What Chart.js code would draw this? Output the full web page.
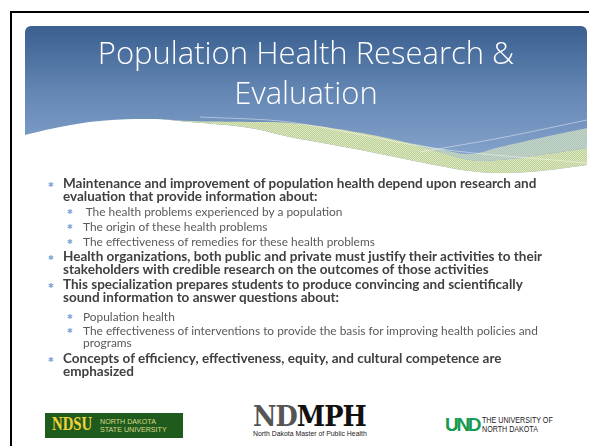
<!DOCTYPE html>
<html>
<head>
<meta charset="utf-8">
<script src="https://cdn.jsdelivr.net/npm/chart.js@4/dist/chart.umd.min.js"></script>
<style>
  html, body { margin: 0; padding: 0; background: #fff; }
  body { width: 589px; height: 446px; position: relative; overflow: hidden; font-family: Lato, "Open Sans", sans-serif; }
  .frame { position: absolute; left: 10px; top: 11px; width: 600px; height: 460px; border-left: 2px solid #000; border-top: 2px solid #000; }
  .header { position: absolute; left: 25px; top: 26px; width: 562px; height: 154px; border-radius: 6px 6px 0 0; overflow: hidden;
    background: linear-gradient(to bottom, #3a6090 0%, #6688b5 45%, #8fadd4 100%); }
  .header canvas { position: absolute; left: 0; top: 0; }
  .title { position: absolute; left: 25px; width: 562px; text-align: center; color: #fff; font-family: "Open Sans", sans-serif; font-weight: 300; font-size: 31px; line-height: 40px; top: 32px; }
  .p { position: absolute; color: #404040; white-space: nowrap; }
  .l1 { left: 63px; font-weight: 700; font-size: 13.5px; line-height: 13px; }
  .l2 { left: 83px; color: #5a5a5a; font-size: 11.9px; line-height: 11.5px; }
  .b { position: absolute; font-family: "DejaVu Sans", sans-serif; color: #7fa4d6; font-size: 7px; font-weight: 400; }
  .l1 .b { left: -15px; top: 2px; }
  .l2 .b { left: -16px; top: 1px; }
  .ndsu { position: absolute; left: 45px; top: 413px; width: 138px; height: 25px; background: #1f5b1c; }
  .ndsu .big { position: absolute; left: 7px; top: 1px; font-family: "Liberation Serif", serif; font-weight: 700; font-size: 18px; color: #efd33a; transform: scaleX(0.82); transform-origin: left top; }
  .ndsu .small { position: absolute; left: 55px; top: 5px; font-family: "Liberation Sans", sans-serif; font-size: 7.5px; line-height: 7.5px; color: #d9d98a; transform: scaleX(0.95); transform-origin: left top; }
  .ndmph { position: absolute; left: 253px; top: 403px; font-family: "DejaVu Serif", serif; font-weight: 900; font-size: 27px; line-height: 27px; transform: scaleX(0.95); transform-origin: left top; letter-spacing: -1px; }
  .ndmph .g { color: #555; }
  .ndmph .k { color: #111; }
  .ndmph-sub { position: absolute; left: 253px; top: 430px; font-family: "Liberation Sans", sans-serif; font-size: 6.9px; color: #222; }
  .und { position: absolute; left: 445px; top: 414px; font-family: "Liberation Sans", sans-serif; font-weight: 700; font-size: 19px; color: #189a4e; letter-spacing: -2.3px; }
  .und-t { position: absolute; left: 482px; top: 415px; font-family: "Liberation Sans", sans-serif; font-size: 9.5px; line-height: 9px; color: #222; transform: scaleX(0.75); transform-origin: left top; }
</style>
</head>
<body>
<div class="frame"></div>
<div class="header"><canvas id="wave" width="562" height="154"></canvas></div>
<div class="title">Population Health Research &amp;<br>Evaluation</div>

<div class="p l1" style="top:177px"><span class="b">✱</span>Maintenance and improvement of population health depend upon research and<br>evaluation that provide information about:</div>
<div class="p l2" style="top:206px"><span class="b">✱</span>&nbsp;The health problems experienced by a population</div>
<div class="p l2" style="top:221px"><span class="b">✱</span>The origin of these health problems</div>
<div class="p l2" style="top:235.5px"><span class="b">✱</span>The effectiveness of remedies for these health problems</div>
<div class="p l1" style="top:250px"><span class="b">✱</span>Health organizations, both public and private must justify their activities to their<br>stakeholders with credible research on the outcomes of those activities</div>
<div class="p l1" style="top:278px"><span class="b">✱</span>This specialization prepares students to produce convincing and scientifically<br>sound information to answer questions about:</div>
<div class="p l2" style="top:310.5px"><span class="b">✱</span>Population health</div>
<div class="p l2" style="top:325px"><span class="b">✱</span>The effectiveness of interventions to provide the basis for improving health policies and<br>programs</div>
<div class="p l1" style="top:352px"><span class="b">✱</span>Concepts of efficiency, effectiveness, equity, and cultural competence are<br>emphasized</div>

<div class="ndsu"><span class="big">NDSU</span><span class="small">NORTH DAKOTA<br>STATE UNIVERSITY</span></div>
<div class="ndmph"><span class="g">ND</span><span class="k">MPH</span></div>
<div class="ndmph-sub">North Dakota Master of Public Health</div>
<div class="und">UND</div>
<div class="und-t">THE UNIVERSITY OF<br>NORTH DAKOTA</div>

<script>
// wave shape of the header (page pixels)
const waveX = [25, 60, 100, 150, 190, 250, 290, 350, 400, 440, 470, 500, 540, 587];
const blueEdge = [135, 127, 121, 119, 121, 122, 123, 131, 141, 149, 154, 147, 138, 128];
const bandMid = [135, 127, 121, 119, 121, 122, 123, 131, 141, 152, 160, 160, 155, 148];
const whiteEdge = [135, 127, 121, 119, 122, 128, 137, 148, 158, 166, 171, 173, 171, 165];
const streakAX = [200, 289, 440, 587];
const streakAY = [117, 122, 149, 163];
const streakBX = [420, 500, 587];
const streakBY = [152, 138, 120];

const pts = (xs, ys) => xs.map((x, i) => ({ x, y: ys[i] }));

const makeDots = (a, b) => {
  const c = document.createElement('canvas');
  c.width = 2;
  c.height = 2;
  const g = c.getContext('2d');
  g.fillStyle = a;
  g.fillRect(0, 0, 2, 2);
  g.fillStyle = b;
  g.fillRect(0, 0, 1, 1);
  g.fillRect(1, 1, 1, 1);
  return g.createPattern(c, 'repeat');
};

const ctx = document.getElementById('wave').getContext('2d');
new Chart(ctx, {
  type: 'line',
  data: {
    datasets: [
      {
        data: pts(waveX, blueEdge),
        borderWidth: 0,
        backgroundColor: makeDots('#a9c1dc', '#c9d9a6'),
        fill: { target: 1 },
        tension: 0.4,
        pointRadius: 0,
      },
      {
        data: pts(waveX, bandMid),
        borderWidth: 0,
        backgroundColor: makeDots('#dfe8b8', '#bccfa0'),
        fill: { target: 2 },
        tension: 0.4,
        pointRadius: 0,
      },
      {
        data: pts(waveX, whiteEdge),
        borderWidth: 0,
        backgroundColor: '#ffffff',
        fill: 'start',
        tension: 0.4,
        pointRadius: 0,
      },
      {
        data: pts(streakAX, streakAY),
        borderColor: 'rgba(255,255,255,0.55)',
        borderWidth: 0.8,
        fill: false,
        tension: 0.3,
        pointRadius: 0,
        order: -1,
      },
      {
        data: pts(streakBX, streakBY),
        borderColor: 'rgba(255,255,255,0.55)',
        borderWidth: 0.8,
        fill: false,
        tension: 0.3,
        pointRadius: 0,
        order: -1,
      },
    ],
  },
  options: {
    responsive: false,
    animation: false,
    layout: { padding: 0, autoPadding: false },
    scales: {
      x: { type: 'linear', min: 25, max: 587, display: false },
      y: { type: 'linear', min: 26, max: 180, reverse: true, display: false },
    },
    plugins: {
      legend: { display: false },
      tooltip: { enabled: false },
    },
  },
});
</script>
</body>
</html>
